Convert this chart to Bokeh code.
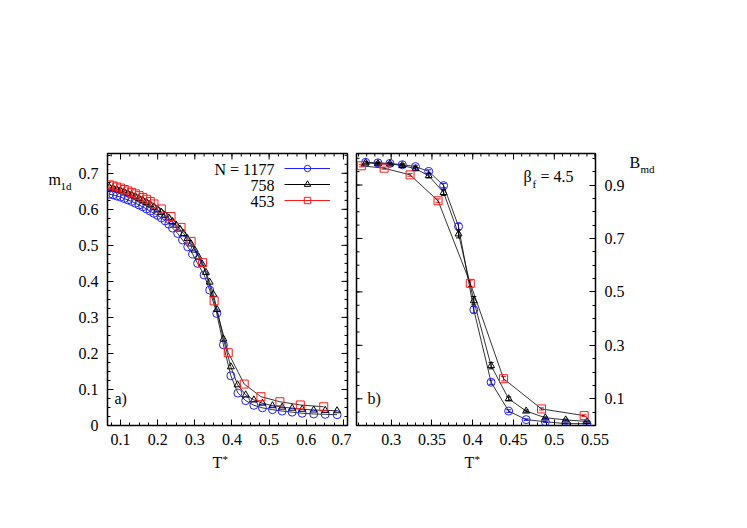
import math
from bokeh.plotting import figure
from bokeh.models import (Range1d, FixedTicker, Label, Legend, LegendItem,
                          Whisker, TeeHead, ColumnDataSource, CustomJSTickFormatter)
from bokeh.layouts import row, column
from bokeh.embed import file_html
from bokeh.resources import INLINE

FONT = "Liberation Serif"
BLUE = "#2020ff"
RED = "#ff1a1a"
BLACK = "#000000"

# ---------------- panel a) data : m_1d vs T* ----------------
a_T_1177 = [0.07, 0.08, 0.09, 0.10, 0.11, 0.12, 0.13, 0.14, 0.15, 0.16, 0.17, 0.18, 0.19,
            0.20, 0.21, 0.22, 0.23, 0.24, 0.254, 0.267, 0.281, 0.294, 0.3075, 0.325, 0.34,
            0.359, 0.377, 0.397, 0.416, 0.437, 0.459, 0.482, 0.509, 0.535, 0.562, 0.589,
            0.62, 0.651, 0.683]
a_m_1177 = [0.642, 0.640, 0.637, 0.634, 0.630, 0.626, 0.622, 0.617, 0.612, 0.607, 0.601,
            0.595, 0.589, 0.583, 0.576, 0.568, 0.559, 0.548, 0.533, 0.515, 0.496, 0.476,
            0.450, 0.418, 0.376, 0.311, 0.224, 0.138, 0.090, 0.069, 0.056, 0.049, 0.044,
            0.040, 0.037, 0.034, 0.032, 0.031, 0.030]

a_T_758 = [0.07, 0.08, 0.09, 0.10, 0.11, 0.12, 0.13, 0.14, 0.15, 0.16, 0.17, 0.18, 0.19,
           0.20, 0.21, 0.22, 0.23, 0.24, 0.25, 0.26, 0.27, 0.28, 0.29, 0.30, 0.31, 0.32,
           0.33, 0.34, 0.35, 0.36, 0.377, 0.397, 0.415, 0.437, 0.459, 0.482, 0.509, 0.535,
           0.562, 0.589, 0.62, 0.651, 0.683]
a_m_758 = [0.661, 0.658, 0.655, 0.652, 0.648, 0.644, 0.640, 0.635, 0.630, 0.625, 0.619,
           0.613, 0.606, 0.599, 0.592, 0.584, 0.576, 0.566, 0.556, 0.545, 0.533, 0.519,
           0.504, 0.487, 0.468, 0.448, 0.425, 0.398, 0.364, 0.322, 0.240, 0.163, 0.113,
           0.085, 0.071, 0.062, 0.055, 0.051, 0.048, 0.045, 0.043, 0.042, 0.041]

a_T_453 = [0.07, 0.08, 0.09, 0.10, 0.11, 0.12, 0.13, 0.14, 0.15, 0.16, 0.17, 0.18, 0.19,
           0.21, 0.236, 0.263, 0.29, 0.321, 0.352, 0.39, 0.433, 0.478, 0.529, 0.584, 0.647]
a_m_453 = [0.668, 0.665, 0.662, 0.659, 0.655, 0.651, 0.647, 0.643, 0.638, 0.633, 0.628,
           0.622, 0.615, 0.601, 0.580, 0.550, 0.511, 0.452, 0.346, 0.202, 0.115, 0.080,
           0.066, 0.057, 0.052]

# ---------------- panel b) data : B_md vs T* ----------------
b_T_big = [0.2687, 0.2838, 0.2985, 0.3136, 0.3298, 0.346, 0.3643, 0.3826, 0.4013, 0.4225,
           0.444, 0.4655, 0.489, 0.514, 0.540]
b_B_1177 = [0.985, 0.983, 0.981, 0.976, 0.969, 0.951, 0.898, 0.745, 0.433, 0.162, 0.054,
            0.022, 0.014, 0.007, 0.007]
b_e_1177 = [0.004, 0.004, 0.004, 0.004, 0.005, 0.006, 0.008, 0.012, 0.012, 0.008, 0.005,
            0.003, 0.003, 0.002, 0.002]
b_B_758 = [0.983, 0.980, 0.979, 0.973, 0.961, 0.935, 0.872, 0.717, 0.467, 0.224, 0.100,
           0.054, 0.029, 0.021, 0.015]
b_e_758 = [0.004, 0.004, 0.004, 0.005, 0.006, 0.008, 0.011, 0.015, 0.016, 0.012, 0.007,
           0.004, 0.003, 0.003, 0.002]
b_T_453 = [0.2634, 0.2914, 0.3232, 0.3575, 0.397, 0.4378, 0.4843, 0.5366]
b_B_453 = [0.972, 0.963, 0.938, 0.841, 0.532, 0.175, 0.062, 0.037]
b_e_453 = [0.004, 0.004, 0.005, 0.007, 0.012, 0.008, 0.004, 0.003]

legend_labels = ["N = 1177", "758", "453"]

A_X = (0.065, 0.711)
A_Y = (0.0, 0.755)
B_X = (0.2575, 0.5505)
B_Y = (0.0, 1.018)

a_xticks = [0.1, 0.2, 0.3, 0.4, 0.5, 0.6, 0.7]
a_yticks = [0.0, 0.1, 0.2, 0.3, 0.4, 0.5, 0.6, 0.7]
b_xticks = [0.3, 0.35, 0.4, 0.45, 0.5, 0.55]
b_yticks = [0.1, 0.3, 0.5, 0.7, 0.9]

fmt = CustomJSTickFormatter(code="return String(Math.round(tick*1000)/1000)")


def minor(lo, hi, step):
    n = int(round((hi - lo) / step))
    return [round(lo + i * step, 5) for i in range(n + 1)]


a_xminor = minor(0.075, 0.7, 0.025)
a_yminor = minor(0.0, 0.75, 0.025)
b_xminor = minor(0.26, 0.55, 0.01)
b_yminor = minor(0.0, 1.0, 0.05)

TOP = 153       # page y of the frames' top
FRAME_H = 272   # frame height (bottom at y = 425)
H_MAIN = 452    # height of the row with the two panels


def style_axis(ax, ticker, standoff=9):
    ax.ticker = ticker
    ax.formatter = fmt
    ax.axis_line_color = None
    ax.major_tick_in = 6
    ax.major_tick_out = 0
    ax.minor_tick_in = 3
    ax.minor_tick_out = 0
    ax.major_tick_line_color = "black"
    ax.minor_tick_line_color = "black"
    ax.major_label_text_font = FONT
    ax.major_label_text_color = "black"
    ax.major_label_text_font_size = "16px"
    ax.major_label_standoff = standoff


def mirror_ticks(p, xt, xm, yt, ym, xr, yr, y_side):
    # inward ticks on the opposite frame sides
    p.ray(x=xt, y=[yr[1]] * len(xt), length=6, angle=-math.pi / 2,
          length_units="screen", line_color="black", line_width=1)
    p.ray(x=xm, y=[yr[1]] * len(xm), length=3, angle=-math.pi / 2,
          length_units="screen", line_color="black", line_width=1)
    xs = xr[1] if y_side == "right" else xr[0]
    ang = math.pi if y_side == "right" else 0.0
    p.ray(x=[xs] * len(yt), y=yt, length=6, angle=ang,
          length_units="screen", line_color="black", line_width=1)
    p.ray(x=[xs] * len(ym), y=ym, length=3, angle=ang,
          length_units="screen", line_color="black", line_width=1)


def txt(p, x, y, s, size="16px", align="left"):
    p.add_layout(Label(x=x, y=y, x_units="screen", y_units="screen", text=s,
                       text_font=FONT, text_font_size=size, text_color="black",
                       text_align=align, text_baseline="middle"))


def base_fig(xr, yr, width, bl, br, yloc):
    p = figure(width=width, height=H_MAIN, x_range=Range1d(*xr), y_range=Range1d(*yr),
               output_backend="svg", toolbar_location=None,
               min_border_left=bl, min_border_right=br,
               min_border_top=TOP, min_border_bottom=H_MAIN - TOP - FRAME_H,
               y_axis_location=yloc)
    p.grid.visible = False
    p.outline_line_color = "black"
    p.outline_line_width = 1.5
    p.background_fill_color = "white"
    p.border_fill_color = "white"
    return p


def helper(width, height):
    f = figure(width=width, height=height, x_range=Range1d(0, 1), y_range=Range1d(0, 1),
               output_backend="svg", toolbar_location=None, min_border=0,
               x_axis_type=None, y_axis_type=None)
    f.outline_line_color = None
    f.background_fill_color = "white"
    f.border_fill_color = "white"
    return f


# ======================= panel a =======================
L_W = 72
pa = base_fig(A_X, A_Y, 35 + 240 + 4, 35, 4, "left")
style_axis(pa.xaxis[0], FixedTicker(ticks=a_xticks, minor_ticks=a_xminor), standoff=8)
style_axis(pa.yaxis[0], FixedTicker(ticks=a_yticks, minor_ticks=a_yminor))
pa.yaxis[0].major_label_overrides = {0.0: "0"}
mirror_ticks(pa, a_xticks, a_xminor, a_yticks, a_yminor, A_X, A_Y, "right")

for T, m in [(a_T_1177, a_m_1177), (a_T_758, a_m_758), (a_T_453, a_m_453)]:
    pa.line(T, m, line_color="black", line_width=0.8)

r_b = pa.scatter(a_T_1177, a_m_1177, marker="circle", size=8, fill_color=None,
                 line_color=BLUE, line_width=1)
r_k = pa.scatter(a_T_758, a_m_758, marker="triangle", size=7, fill_color=None,
                 line_color=BLACK, line_width=1)
r_r = pa.scatter(a_T_453, a_m_453, marker="square", size=8, fill_color=None,
                 line_color=RED, line_width=1)

# legend samples: coloured (hidden) lines + the series markers; texts drawn at left
items = []
for T, m, col, sr in [(a_T_1177, a_m_1177, BLUE, r_b), (a_T_758, a_m_758, BLACK, r_k),
                      (a_T_453, a_m_453, RED, r_r)]:
    lr = pa.line(T, m, line_color=col, line_width=1, visible=False)
    items.append(LegendItem(label=" ", renderers=[lr, sr]))
leg = Legend(items=items, location=(177, 217), glyph_width=46, glyph_height=16,
             label_height=16, label_width=0, label_standoff=0, spacing=0,
             padding=0, margin=0, label_text_font_size="8px",
             border_line_color=None, background_fill_alpha=0)
pa.add_layout(leg, "center")

txt(pa, 167, 256, legend_labels[0], align="right")
txt(pa, 167, 240, legend_labels[1], align="right")
txt(pa, 167, 224, legend_labels[2], align="right")
txt(pa, 7, 27, "a)")

# ======================= panel b =======================
pb = base_fig(B_X, B_Y, 5 + 241 + 30, 5, 30, "right")
style_axis(pb.xaxis[0], FixedTicker(ticks=b_xticks, minor_ticks=b_xminor), standoff=8)
style_axis(pb.yaxis[0], FixedTicker(ticks=b_yticks, minor_ticks=b_yminor))
mirror_ticks(pb, b_xticks, b_xminor, b_yticks, b_yminor, B_X, B_Y, "left")

for T, B in [(b_T_big, b_B_1177), (b_T_big, b_B_758), (b_T_453, b_B_453)]:
    pb.line(T, B, line_color="black", line_width=0.8)

for T, B, E, col in [(b_T_big, b_B_1177, b_e_1177, BLUE), (b_T_big, b_B_758, b_e_758, BLACK),
                     (b_T_453, b_B_453, b_e_453, RED)]:
    src = ColumnDataSource(dict(x=T, up=[b + e for b, e in zip(B, E)],
                                lo=[b - e for b, e in zip(B, E)]))
    pb.add_layout(Whisker(source=src, base="x", upper="up", lower="lo", dimension="height",
                          line_color=col, line_width=1,
                          upper_head=TeeHead(size=5, line_color=col, line_width=1),
                          lower_head=TeeHead(size=5, line_color=col, line_width=1)))

pb.scatter(b_T_big, b_B_1177, marker="circle", size=8, fill_color=None,
           line_color=BLUE, line_width=1)
pb.scatter(b_T_big, b_B_758, marker="triangle", size=7, fill_color=None,
           line_color=BLACK, line_width=1)
pb.scatter(b_T_453, b_B_453, marker="square", size=8, fill_color=None,
           line_color=RED, line_width=1)

txt(pb, 11, 27, "b)")
txt(pb, 167, 249, "\u03b2")
txt(pb, 176, 242, "f", size="11px")
txt(pb, 184, 249, "= 4.5")

# ============ text strips around the panels (axis titles) ============
# (frames inside a row are aligned: their y runs from the frame bottom, page y = 425)
FB = TOP + FRAME_H
left_strip = helper(L_W, H_MAIN)
txt(left_strip, 48, FB - 179, "m")
txt(left_strip, 60, FB - 185, "1d", size="11px")

R_W = 40
right_strip = helper(R_W, H_MAIN)
txt(right_strip, 2, FB - 162, "B")
txt(right_strip, 13, FB - 168, "md", size="11px")

TOTAL_W = L_W + pa.width + pb.width + R_W
B_H = 40
bottom_strip = helper(TOTAL_W, B_H)
txt(bottom_strip, 212, B_H - (462 - H_MAIN), "T")
txt(bottom_strip, 222, B_H - (458 - H_MAIN), "*", size="11px")
txt(bottom_strip, 464, B_H - (462 - H_MAIN), "T")
txt(bottom_strip, 474, B_H - (458 - H_MAIN), "*", size="11px")

layout = column(row(left_strip, pa, pb, right_strip), bottom_strip)
open("out.html", "w").write(file_html(layout, INLINE))
